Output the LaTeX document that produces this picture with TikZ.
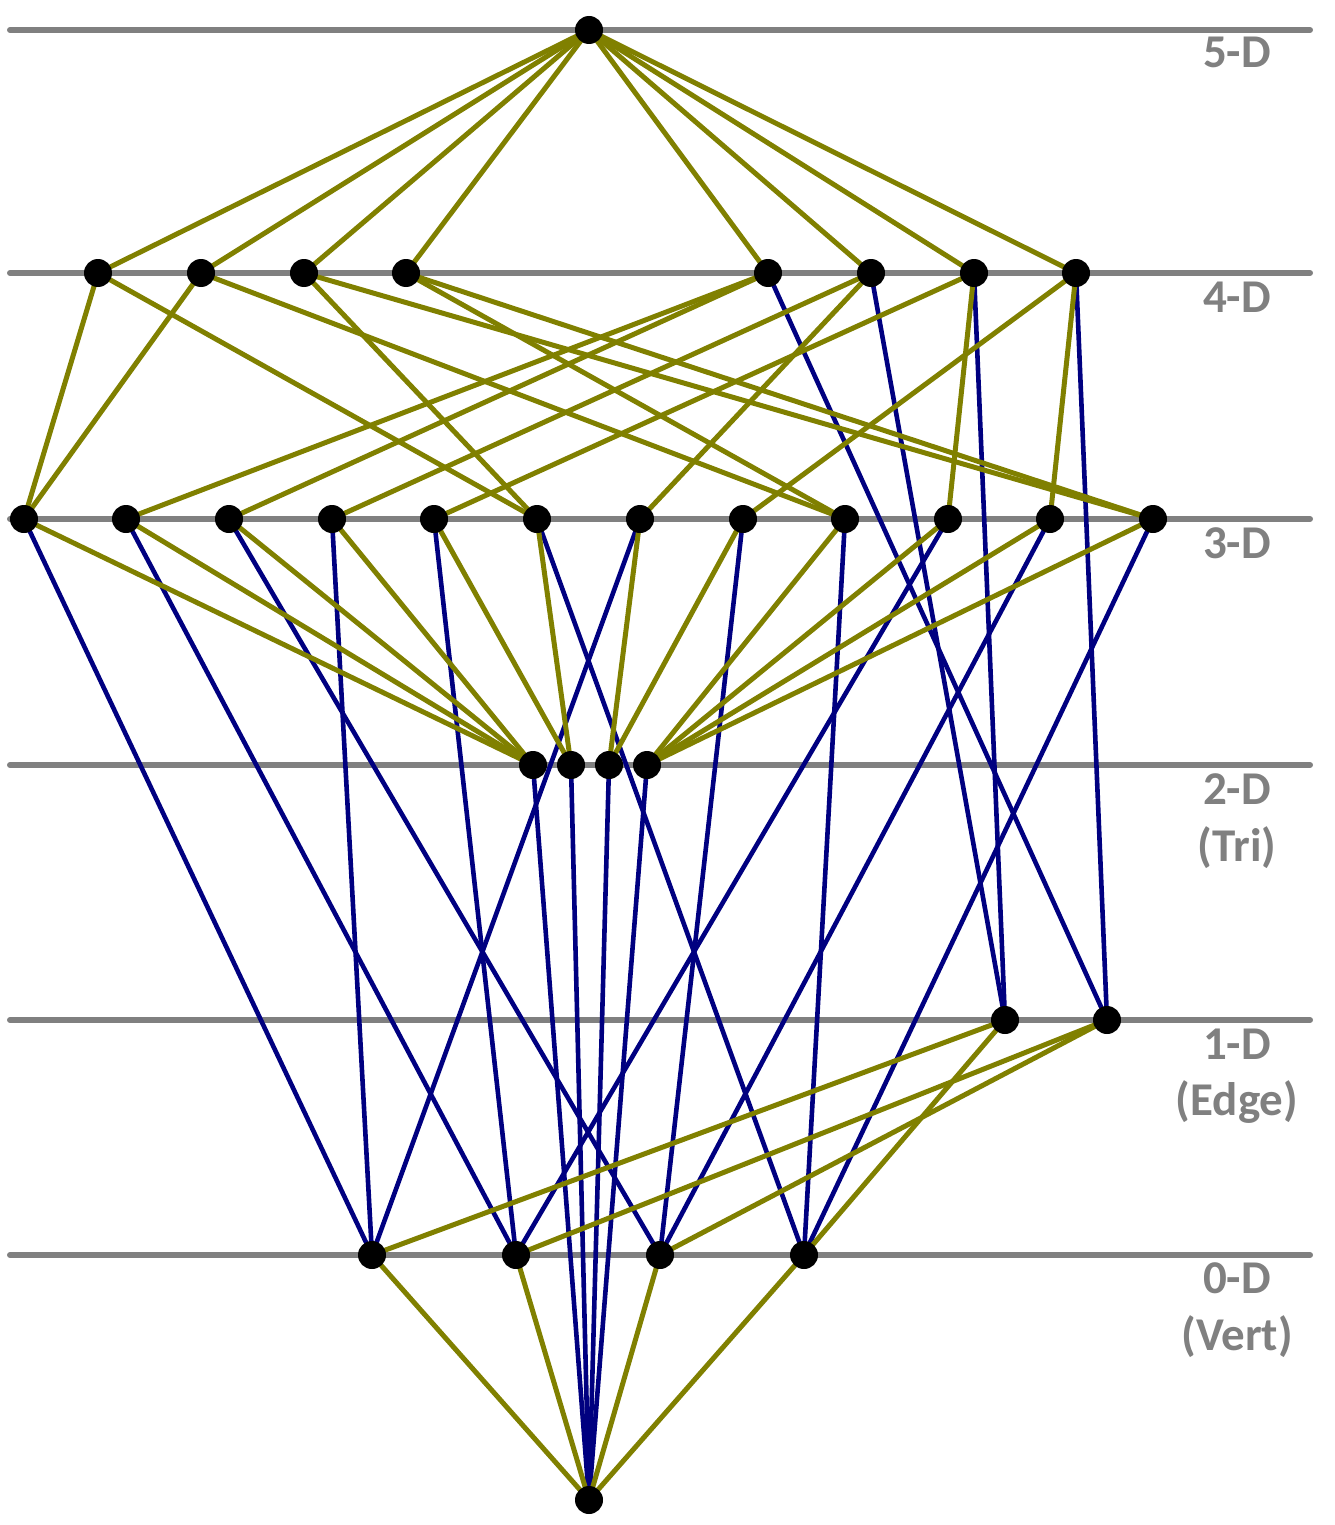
\documentclass[tikz,border=0pt]{standalone}
\usepackage{fontspec}
\setmainfont{Carlito}
\definecolor{olivec}{HTML}{808000}
\definecolor{navyc}{HTML}{000080}
\definecolor{grayc}{HTML}{808080}
\begin{document}
\begin{tikzpicture}[x=1pt,y=-1pt,
  dot/.style={circle,fill=black,inner sep=0pt,minimum size=28pt},
  lvl/.style={grayc,line width=6pt,line cap=round},
  ol/.style={olivec,line width=5pt},
  bl/.style={navyc,line width=4.6pt},
  lab/.style={anchor=base,inner sep=0pt,text=grayc,font=\fontsize{47}{57}\selectfont\bfseries}]
\useasboundingbox (0,0) rectangle (1334,1525);
% level lines
\foreach \y/\n in {30/l5,273/l4,519/l3,765/l2,1020/l1,1255/l0}{
  \coordinate (\n a) at (10,\y); \coordinate (\n b) at (1310,\y);
  \draw[lvl] (\n a) -- (\n b);
}
% labels
\node[lab] (t5) at (1237,68) {5-D};
\node[lab] (t4) at (1237,312) {4-D};
\node[lab] (t3) at (1237,558) {3-D};
\node[lab] (t2) at (1237,804) {2-D};
\node[lab] (t2b) at (1237,861) {(Tri)};
\node[lab] (t1) at (1237,1059) {1-D};
\node[lab] (t1b) at (1237,1115) {(Edge)};
\node[lab] (t0) at (1237,1293) {0-D};
\node[lab] (t0b) at (1237,1350) {(Vert)};
% node positions
\coordinate (T) at (589,30);
\coordinate (B) at (589,1500);
\foreach \x [count=\i] in {98,201,304,406,768,871,974,1076}{\coordinate (f\i) at (\x,273);}
\foreach \x [count=\i] in {24,126,229,332,434,537,640,743,845,948,1050,1153}{\coordinate (r\i) at (\x,519);}
\foreach \x [count=\i] in {533,571,609,647}{\coordinate (s\i) at (\x,765);}
\foreach \x [count=\i] in {1005,1107}{\coordinate (e\i) at (\x,1020);}
\foreach \x [count=\i] in {372,516,660,804}{\coordinate (v\i) at (\x,1255);}
% blue edges
\foreach \a/\b in {f5/e2,f6/e1,f7/e1,f8/e2,
  r1/v1,r2/v2,r3/v3,r4/v1,r5/v2,r6/v4,r7/v1,r8/v3,r9/v4,r10/v2,r11/v3,r12/v4,
  s1/B,s2/B,s3/B,s4/B}{\draw[bl] (\a) -- (\b);}
% olive edges
\foreach \i in {1,...,8}{\draw[ol] (T) -- (f\i);}
\foreach \a/\b in {f1/r1,f1/r6,f2/r1,f2/r9,f3/r6,f3/r12,f4/r9,f4/r12,
  f5/r2,f5/r3,f6/r4,f6/r7,f7/r5,f7/r10,f8/r8,f8/r11,
  r1/s1,r2/s1,r3/s1,r4/s1,r5/s2,r6/s2,r7/s3,r8/s3,r9/s4,r10/s4,r11/s4,r12/s4,
  e1/v1,e1/v4,e2/v2,e2/v3,
  v1/B,v2/B,v3/B,v4/B}{\draw[ol] (\a) -- (\b);}
% dots
\node[dot] (nT) at (T) {};
\node[dot] (nB) at (B) {};
\foreach \i in {1,...,8}{\node[dot] (nf\i) at (f\i) {};}
\foreach \i in {1,...,12}{\node[dot] (nr\i) at (r\i) {};}
\foreach \i in {1,...,4}{\node[dot] (ns\i) at (s\i) {};}
\foreach \i in {1,2}{\node[dot] (ne\i) at (e\i) {};}
\foreach \i in {1,...,4}{\node[dot] (nv\i) at (v\i) {};}
\end{tikzpicture}
\end{document}
